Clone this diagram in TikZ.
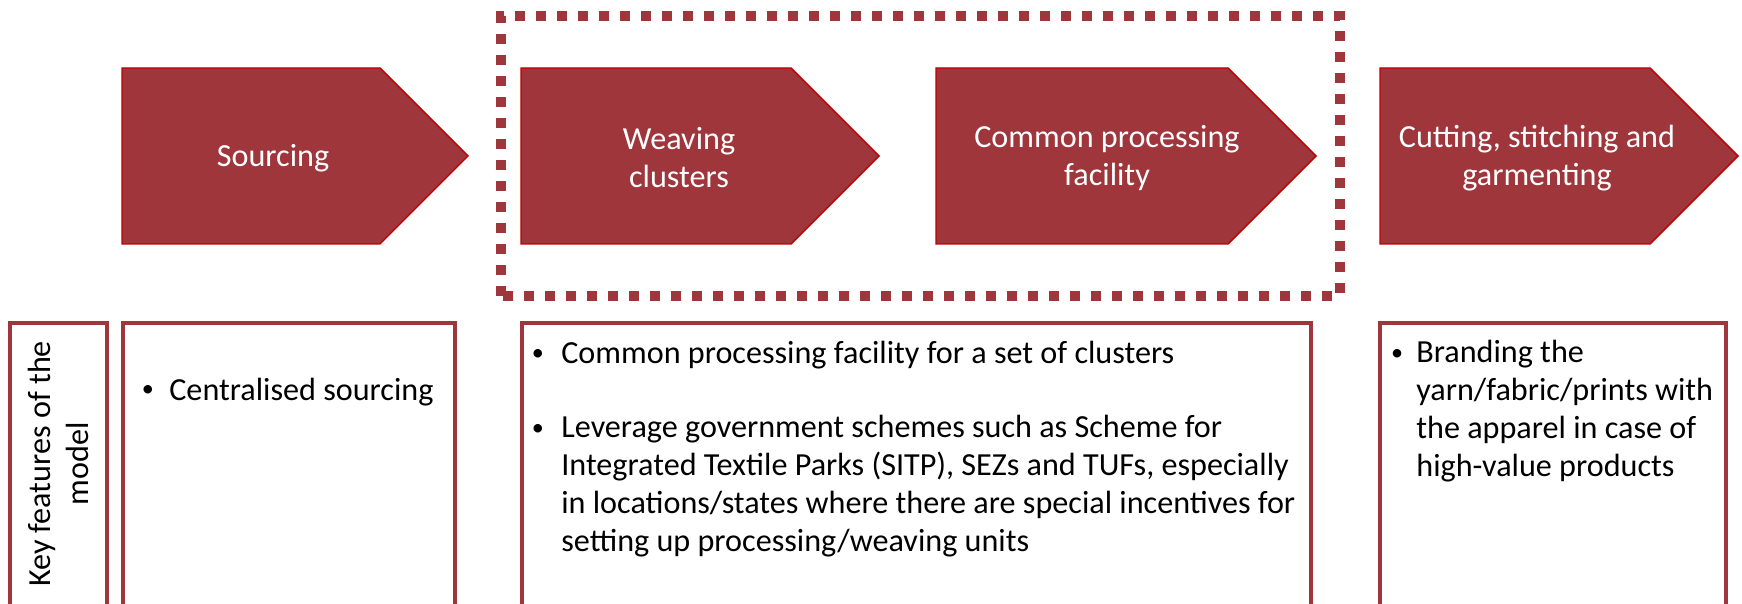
\documentclass[tikz,border=0pt]{standalone}
\usepackage{fontspec}
\setmainfont{Carlito}
\usetikzlibrary{positioning}
\definecolor{kpred}{RGB}{158, 54, 60}
\definecolor{kpedge}{RGB}{192, 0, 0}
\newcommand{\kpbullet}{\raisebox{0.1em}{\scalebox{0.75}{\textbullet}}}

\begin{document}
\begin{tikzpicture}[every node/.style={font=\fontsize{18.3}{21.6}\selectfont},
  stage/.style={draw=kpedge, fill=kpred, line width=0.8pt},
  stagetxt/.style={text=white, align=center},
  featbox/.style={draw=kpred, line width=2.8pt},
  feattxt/.style={anchor=north west, align=left, inner sep=0pt},
  dot/.style={anchor=base, inner sep=0pt}]
  \useasboundingbox (0,0) rectangle (34.84,12.06);

  % Dotted frame round weaving and processing
  \draw[kpred, line width=5.7pt, dash pattern=on 0.2cm off 0.22cm]
    (10.02,6.14) rectangle (26.80,11.74);

  % Value chain stages
  \draw[stage] (2.44,7.18) -- (7.60,7.18) -- (9.36,8.94) -- (7.60,10.70) -- (2.44,10.70) -- cycle;
  \node[stagetxt] (sourcing) at (5.46,8.90) {Sourcing};

  \draw[stage] (10.42,7.18) -- (15.82,7.18) -- (17.58,8.94) -- (15.82,10.70) -- (10.42,10.70) -- cycle;
  \node[stagetxt] (weaving) at (13.58,8.90) {Weaving\\clusters};

  \draw[stage] (18.72,7.18) -- (24.56,7.18) -- (26.32,8.94) -- (24.56,10.70) -- (18.72,10.70) -- cycle;
  \node[stagetxt] (processing) at (22.14,8.90) {Common processing\\facility};

  \draw[stage] (27.60,7.18) -- (33.00,7.18) -- (34.76,8.94) -- (33.00,10.70) -- (27.60,10.70) -- cycle;
  \node[stagetxt] (cutting) at (30.74,8.90) {Cutting, stitching and\\garmenting};

  % Key features row
  \draw[featbox] (0.20,-0.3) rectangle (2.14,5.60);
  \node[rotate=90, align=center] (keyfeat) at (1.17,2.78) {Key features of the\\model};

  \draw[featbox] (2.46,-0.3) rectangle (9.10,5.60);
  \node[dot] (dotsrc) at (2.96,4.06) {\kpbullet};
  \node[anchor=base west, inner sep=0pt] (centralised) at (3.38,4.06) {Centralised sourcing};

  \draw[featbox] (10.44,-0.3) rectangle (26.22,5.60);
  \node[dot] (dotcpf) at (10.76,4.78) {\kpbullet};
  \node[anchor=base west, inner sep=0pt] (cpf) at (11.22,4.78) {Common processing facility for a set of clusters};
  \node[dot] (dotschemes) at (10.76,3.28) {\kpbullet};
  \node[feattxt] (schemes) at (11.22,3.76)
    {Leverage government schemes such as Scheme for\\
     Integrated Textile Parks (SITP), SEZs and TUFs, especially\\
     in locations/states where there are special incentives for\\
     setting up processing/weaving units};

  \draw[featbox] (27.60,-0.3) rectangle (34.52,5.60);
  \node[dot] (dotbrand) at (27.94,4.78) {\kpbullet};
  \node[feattxt] (branding) at (28.32,5.26)
    {Branding the\\yarn/fabric/prints with\\the apparel in case of\\high-value products};
\end{tikzpicture}
\end{document}
